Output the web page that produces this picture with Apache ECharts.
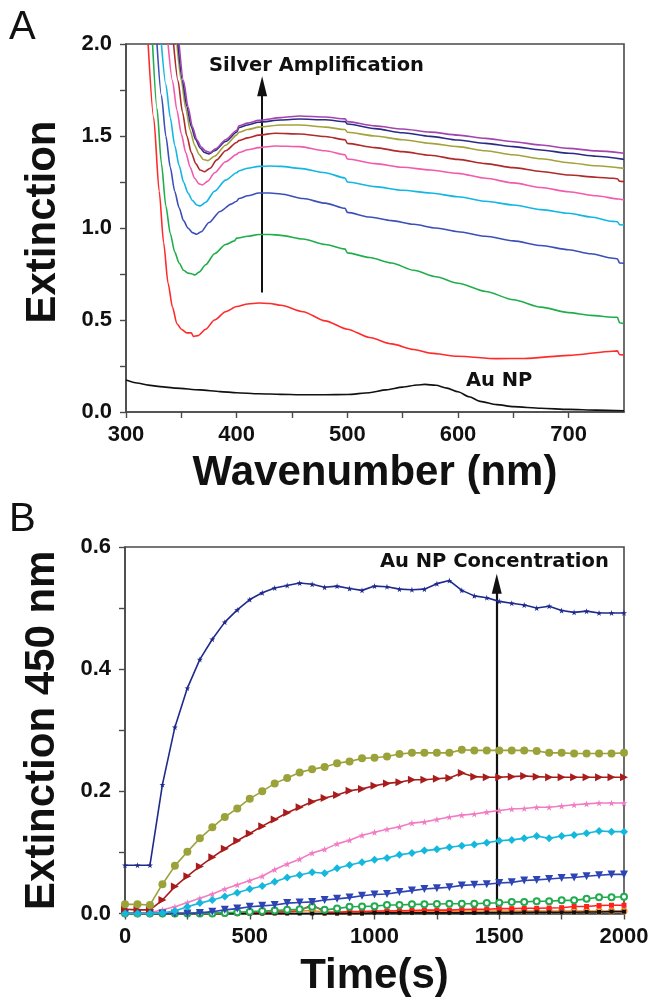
<!DOCTYPE html>
<html><head><meta charset="utf-8">
<script src="https://cdn.jsdelivr.net/npm/echarts@6/dist/echarts.min.js"></script>
<style>html,body{margin:0;padding:0;background:#fff}#c{width:652px;height:1003px}</style>
</head><body><div id="c"></div>
<script>
// ---------- Panel A : extinction spectra [wavelength nm, extinction] ----------
const specAuNP = [[300,0.174],[310,0.158],[320,0.146],[331,0.138],[345,0.13],[367,0.12],[385,0.111],[400,0.105],[420,0.099],[440,0.096],[457,0.094],[480,0.094],[500,0.095],[520,0.105],[535,0.12],[550,0.135],[563,0.147],[570,0.15],[580,0.145],[590,0.13],[600,0.11],[610,0.083],[620,0.058],[635,0.04],[650,0.029],[675,0.02],[700,0.014],[725,0.01],[750,0.007]];
const specAg1 = [[320,2.0],[325,1.6],[330,1.2],[334,0.92],[338,0.70],[342,0.57],[346,0.48],[350,0.45],[355,0.43],[359,0.43],[361,0.41],[365,0.415],[372,0.45],[380,0.5],[390,0.545],[400,0.573],[410,0.587],[420,0.592],[430,0.59],[440,0.58],[460,0.545],[480,0.495],[500,0.45],[520,0.405],[540,0.37],[560,0.34],[575,0.32],[600,0.303],[635,0.29],[660,0.291],[700,0.308],[740,0.33],[744,0.332],[746,0.312],[750,0.31]];
const specAg2 = [[324,2.0],[328,1.65],[332,1.35],[336,1.12],[340,0.97],[344,0.87],[348,0.81],[352,0.77],[356,0.755],[360,0.75],[362,0.745],[366,0.76],[372,0.8],[380,0.86],[390,0.91],[398,0.93],[400,0.945],[410,0.955],[420,0.965],[430,0.965],[440,0.96],[460,0.94],[480,0.91],[498,0.885],[500,0.865],[520,0.84],[540,0.81],[560,0.77],[580,0.735],[600,0.70],[625,0.655],[650,0.61],[675,0.57],[700,0.54],[720,0.525],[740,0.515],[744,0.515],[746,0.485],[750,0.48]];
const specAg3 = [[328,2.0],[332,1.72],[336,1.5],[340,1.33],[344,1.2],[348,1.11],[352,1.04],[356,1.0],[360,0.975],[364,0.966],[368,0.98],[375,1.03],[385,1.09],[395,1.13],[400,1.145],[402,1.16],[410,1.175],[420,1.19],[430,1.19],[440,1.185],[460,1.16],[480,1.135],[498,1.107],[500,1.085],[520,1.06],[540,1.04],[560,1.02],[580,1.0],[600,0.98],[625,0.955],[650,0.93],[675,0.905],[700,0.882],[720,0.86],[740,0.836],[744,0.833],[746,0.81],[750,0.808]];
const specAg4 = [[332,2.0],[336,1.78],[340,1.6],[344,1.45],[348,1.34],[352,1.25],[356,1.19],[360,1.15],[364,1.125],[367,1.12],[372,1.14],[380,1.2],[390,1.26],[400,1.3],[402,1.31],[410,1.325],[420,1.335],[430,1.337],[440,1.335],[457,1.324],[480,1.3],[498,1.272],[500,1.25],[525,1.225],[550,1.205],[575,1.19],[600,1.17],[625,1.145],[650,1.125],[675,1.1],[700,1.08],[720,1.06],[740,1.036],[744,1.034],[746,1.018],[750,1.016]];
const specAg5 = [[338,2.0],[342,1.8],[346,1.64],[350,1.51],[354,1.41],[358,1.33],[362,1.27],[366,1.24],[369,1.234],[374,1.255],[380,1.3],[390,1.36],[400,1.4],[402,1.41],[410,1.425],[420,1.437],[435,1.446],[457,1.442],[480,1.42],[498,1.398],[500,1.375],[525,1.35],[550,1.33],[575,1.315],[600,1.297],[625,1.27],[650,1.245],[675,1.22],[700,1.197],[725,1.175],[745,1.158],[750,1.152]];
const specAg6 = [[343,2.0],[347,1.8],[351,1.63],[355,1.5],[359,1.41],[363,1.35],[367,1.315],[371,1.306],[376,1.325],[382,1.37],[390,1.42],[400,1.465],[402,1.475],[410,1.49],[420,1.505],[435,1.515],[457,1.511],[480,1.497],[498,1.48],[500,1.46],[525,1.437],[550,1.415],[575,1.395],[600,1.373],[625,1.35],[650,1.328],[675,1.307],[700,1.288],[725,1.276],[740,1.27],[744,1.268],[746,1.254],[750,1.252]];
const specAg7 = [[346,2.0],[350,1.8],[354,1.65],[358,1.53],[362,1.45],[366,1.4],[370,1.372],[374,1.366],[380,1.39],[390,1.45],[400,1.505],[402,1.52],[410,1.535],[420,1.548],[440,1.56],[457,1.56],[480,1.548],[498,1.535],[500,1.52],[525,1.5],[550,1.48],[575,1.46],[600,1.442],[625,1.42],[650,1.398],[675,1.376],[700,1.355],[725,1.338],[750,1.324]];
const specAg8 = [[347,2.0],[351,1.8],[355,1.66],[359,1.55],[363,1.48],[367,1.435],[371,1.41],[375,1.402],[380,1.42],[390,1.47],[400,1.52],[402,1.545],[410,1.56],[420,1.575],[440,1.587],[457,1.592],[480,1.588],[498,1.578],[500,1.565],[525,1.54],[550,1.518],[575,1.498],[600,1.478],[625,1.46],[650,1.442],[675,1.424],[700,1.406],[725,1.39],[750,1.373]];
const specAg9 = [[348,2.0],[352,1.8],[356,1.66],[360,1.55],[364,1.48],[368,1.44],[372,1.418],[376,1.41],[381,1.43],[390,1.48],[400,1.53],[402,1.555],[410,1.57],[420,1.585],[440,1.6],[457,1.609],[480,1.603],[498,1.593],[500,1.578],[525,1.555],[550,1.538],[575,1.521],[600,1.505],[625,1.487],[650,1.469],[675,1.451],[700,1.433],[725,1.419],[750,1.406]];
const spectraA = [specAuNP, specAg1, specAg2, specAg3, specAg4, specAg5, specAg6, specAg7, specAg8, specAg9];
const coloursA = ['#111111','#ff2a2a','#1fae4a','#3b4fb8','#12b6e2','#f25aac','#b02a2a','#a3a23c','#2b2b86','#a444ae'];
const arrowA = [[423, 0.65], [423, 1.77]];

// ---------- Panel B : extinction at 450 nm vs time ----------
const timeS = [0,50,100,150,200,250,300,350,400,450,500,550,600,650,700,750,800,850,900,950,1000,1050,1100,1150,1200,1250,1300,1350,1400,1450,1500,1550,1600,1650,1700,1750,1800,1850,1900,1950,2000];
const kinNavy  = [0.079,0.079,0.079,0.211,0.305,0.369,0.416,0.449,0.477,0.497,0.514,0.525,0.533,0.537,0.541,0.539,0.534,0.536,0.532,0.529,0.536,0.535,0.531,0.530,0.531,0.540,0.545,0.529,0.520,0.517,0.511,0.508,0.505,0.500,0.503,0.496,0.493,0.495,0.492,0.492,0.492];
const kinOlive = [0.015,0.015,0.014,0.048,0.078,0.101,0.123,0.141,0.158,0.172,0.188,0.200,0.213,0.222,0.231,0.236,0.240,0.246,0.249,0.254,0.255,0.257,0.261,0.263,0.263,0.263,0.263,0.268,0.267,0.267,0.267,0.267,0.267,0.266,0.263,0.263,0.262,0.262,0.262,0.262,0.263];
const kinDkRed = [0.007,0.006,0.006,0.022,0.044,0.061,0.077,0.092,0.106,0.119,0.131,0.143,0.154,0.165,0.174,0.183,0.189,0.194,0.201,0.204,0.209,0.213,0.215,0.219,0.219,0.2205,0.222,0.230,0.224,0.223,0.223,0.224,0.225,0.224,0.223,0.223,0.223,0.223,0.223,0.223,0.223];
const kinPink  = [0,0,0.001,0.006,0.011,0.018,0.025,0.032,0.04,0.047,0.054,0.061,0.072,0.081,0.089,0.099,0.105,0.114,0.12,0.128,0.133,0.138,0.142,0.148,0.15,0.154,0.158,0.161,0.163,0.166,0.1685,0.171,0.172,0.174,0.174,0.176,0.178,0.1795,0.181,0.181,0.181];
const kinCyan  = [0,0,0,0.001,0.004,0.011,0.017,0.022,0.028,0.034,0.04,0.045,0.052,0.059,0.063,0.0675,0.066,0.074,0.0795,0.084,0.088,0.091,0.096,0.099,0.103,0.105,0.1085,0.111,0.113,0.116,0.119,0.1205,0.123,0.127,0.123,0.127,0.1287,0.1315,0.135,0.134,0.134];
const kinBlue  = [0,0,0,0,0,0,0.001,0.003,0.006,0.008,0.011,0.0125,0.014,0.017,0.018,0.019,0.022,0.024,0.026,0.029,0.031,0.032,0.035,0.0375,0.04,0.0415,0.043,0.046,0.047,0.048,0.05,0.051,0.054,0.055,0.0565,0.058,0.059,0.061,0.0625,0.064,0.064];
const kinGreen = [0,0,0,0,0,0,0,0,0.001,0.002,0.003,0.004,0.005,0.006,0.007,0.011,0.006,0.008,0.011,0.0115,0.012,0.014,0.014,0.015,0.015,0.0155,0.016,0.016,0.016,0.017,0.0175,0.019,0.019,0.02,0.02,0.0215,0.0215,0.024,0.0265,0.0265,0.0275];
const kinRed   = [0,0,0,0,0,0,0,0,0,0.001,0.001,0.002,0.002,0.003,0.004,0.015,0.002,0.002,0.003,0.003,0.004,0.004,0.0045,0.005,0.0055,0.0055,0.0055,0.0065,0.007,0.007,0.008,0.008,0.0085,0.0085,0.009,0.0095,0.0115,0.0115,0.013,0.0135,0.0135];
const kinOrange= [0,0,0,0,0,0,0,0,0,0.001,0.002,0.002,0.003,0.003,0.004,0.005,0.002,0.002,0.002,0.002,0.003,0.003,0.003,0.003,0.003,0.003,0.003,0.004,0.004,0.004,0.004,0.004,0.004,0.004,0.004,0.004,0.004,0.004,0.004,0.004,0.004];
const kinBlack = [0,0,0,0,0,0,0,0,0,0,0,0,0,0,0,0,0,0,0,0,0.001,0.001,0.001,0.001,0.001,0.001,0.001,0.001,0.001,0.0015,0.0015,0.0015,0.002,0.002,0.002,0.002,0.002,0.0025,0.0025,0.003,0.003];
const arrowB = [[1490, 0.01], [1490, 0.54]];

const STAR = 'path://M50,0 L61,35 L98,35 L68,57 L79,91 L50,70 L21,91 L32,57 L2,35 L39,35 Z';
const kineticsB = [
  {d: kinOrange, c: '#e88a2a', s: 'emptyCircle', z: 4, r: 0, sz: 5},
  {d: kinRed,    c: '#ff2020', s: 'rect', z: 5, r: 0, sz: 5},
  {d: kinBlack,  c: '#111111', s: 'rect', z: 6, r: 0, sz: 4},
  {d: kinGreen,  c: '#22aa50', s: 'emptyCircle', z: 6, r: 0, sz: 6},
  {d: kinBlue,   c: '#2e44b4', s: 'triangle', z: 7, r: 180, sz: 8},
  {d: kinCyan,   c: '#14b8dc', s: 'diamond', z: 8, r: 0, sz: 8},
  {d: kinPink,   c: '#f27cc4', s: STAR, z: 6, r: 0, sz: 7},
  {d: kinDkRed,  c: '#a81c1c', s: 'triangle', z: 7, r: -90, sz: 8},
  {d: kinOlive,  c: '#9ba23a', s: 'circle', z: 8, r: 0, sz: 8},
  {d: kinNavy,   c: '#1e2a8c', s: STAR, z: 8, r: 0, sz: 6}
];

const chart = echarts.init(document.getElementById('c'), null, {renderer: 'canvas'});
const AX = '#4a4a4a';
const tickFont = {fontFamily: 'Liberation Sans, Arial, sans-serif', fontWeight: 'bold', fontSize: 22, color: '#111'};
const nameFont = {fontFamily: 'Liberation Sans, Arial, sans-serif', fontWeight: 'bold', fontSize: 42, color: '#111'};
// label shown only on major steps (every `major`), ticks drawn on every minor step
const onMajor = (v, major) => Math.abs(v / major - Math.round(v / major)) < 1e-6;
const axisCommon = () => ({
  axisLine: {show: true, onZero: false, lineStyle: {color: AX, width: 1.6}},
  axisTick: {show: true, inside: false, length: 6, lineStyle: {color: AX, width: 1.4}},
  splitLine: {show: false}
});

const series = [];
spectraA.forEach((d, i) => {
  series.push({
    type: 'line', xAxisIndex: 0, yAxisIndex: 0, data: d, showSymbol: false,
    smooth: 0.25, smoothMonotone: 'x', clip: true,
    lineStyle: {color: coloursA[i], width: 1.6}, itemStyle: {color: coloursA[i]},
    silent: true, animation: false, z: 3 + i
  });
});
series.push({
  type: 'line', xAxisIndex: 0, yAxisIndex: 0, data: [], silent: true, animation: false,
  markLine: {silent: true, animation: false, symbol: ['none', 'triangle'], symbolSize: [10, 20],
    label: {show: false}, lineStyle: {color: '#111', width: 2, type: 'solid'},
    data: [[{coord: arrowA[0]}, {coord: arrowA[1]}]]}
});
kineticsB.forEach(k => {
  series.push({
    type: 'line', xAxisIndex: 1, yAxisIndex: 1,
    data: timeS.map((t, j) => [t, k.d[j]]),
    symbol: k.s, symbolSize: k.sz, symbolRotate: k.r, showAllSymbol: true,
    lineStyle: {color: k.c, width: 1.6},
    itemStyle: {color: k.c, borderColor: k.c, borderWidth: k.s === 'emptyCircle' ? 1.2 : 0},
    silent: true, animation: false, z: k.z, clip: false
  });
});
series.push({
  type: 'line', xAxisIndex: 1, yAxisIndex: 1, data: [], silent: true, animation: false,
  markLine: {silent: true, animation: false, symbol: ['none', 'triangle'], symbolSize: [10, 20],
    label: {show: false}, lineStyle: {color: '#111', width: 2.2, type: 'solid'},
    data: [[{coord: arrowB[0]}, {coord: arrowB[1]}]]}
});

const annFont = 'bold 19.5px "DejaVu Sans", Verdana, sans-serif';
chart.setOption({
  backgroundColor: '#fff',
  animation: false,
  grid: [
    {left: 126, top: 44, right: 28, bottom: 591, show: true, borderColor: AX, borderWidth: 1.6, backgroundColor: 'transparent'},
    {left: 125, top: 547, right: 28, bottom: 89.5, show: true, borderColor: AX, borderWidth: 1.6, backgroundColor: 'transparent'}
  ],
  xAxis: [
    Object.assign(axisCommon(), {
      gridIndex: 0, type: 'value', min: 300, max: 750, interval: 50,
      axisLabel: Object.assign({}, tickFont, {margin: 12, showMaxLabel: false,
        formatter: v => (onMajor(v, 100) && v < 750) ? String(v) : ''}),
      name: 'Wavenumber (nm)', nameLocation: 'middle', nameGap: 40, nameTextStyle: nameFont
    }),
    Object.assign(axisCommon(), {
      gridIndex: 1, type: 'value', min: 0, max: 2000, interval: 250,
      axisLabel: Object.assign({}, tickFont, {margin: 12, formatter: v => onMajor(v, 500) ? String(v) : ''}),
      name: 'Time(s)', nameLocation: 'middle', nameGap: 42, nameTextStyle: nameFont
    })
  ],
  yAxis: [
    Object.assign(axisCommon(), {
      gridIndex: 0, type: 'value', min: 0, max: 2, interval: 0.25,
      axisLabel: Object.assign({}, tickFont, {margin: 14, formatter: v => onMajor(v, 0.5) ? v.toFixed(1) : ''}),
      name: 'Extinction', nameLocation: 'middle', nameGap: 62, nameRotate: 90,
      nameTextStyle: Object.assign({}, nameFont, {padding: [0, 0, 0, 12]})
    }),
    Object.assign(axisCommon(), {
      gridIndex: 1, type: 'value', min: 0, max: 0.6, interval: 0.1,
      axisLabel: Object.assign({}, tickFont, {margin: 14, formatter: v => onMajor(v, 0.2) ? v.toFixed(1) : ''}),
      name: 'Extinction 450 nm', nameLocation: 'middle', nameGap: 62, nameRotate: 90, nameTextStyle: nameFont
    })
  ],
  graphic: [
    {type: 'text', left: 9, top: 8, style: {text: 'A', font: '40px "Liberation Sans", Arial, sans-serif', fill: '#111'}},
    {type: 'text', left: 9, top: 500, style: {text: 'B', font: '40px "Liberation Sans", Arial, sans-serif', fill: '#111'}},
    {type: 'text', left: 209, top: 56, style: {text: 'Silver Amplification', font: annFont, fill: '#111'}},
    {type: 'text', left: 466, top: 371, style: {text: 'Au NP', font: annFont, fill: '#111'}},
    {type: 'text', left: 380, top: 552, style: {text: 'Au NP Concentration', font: annFont, fill: '#111'}}
  ],
  series: series
});
</script></body></html>
